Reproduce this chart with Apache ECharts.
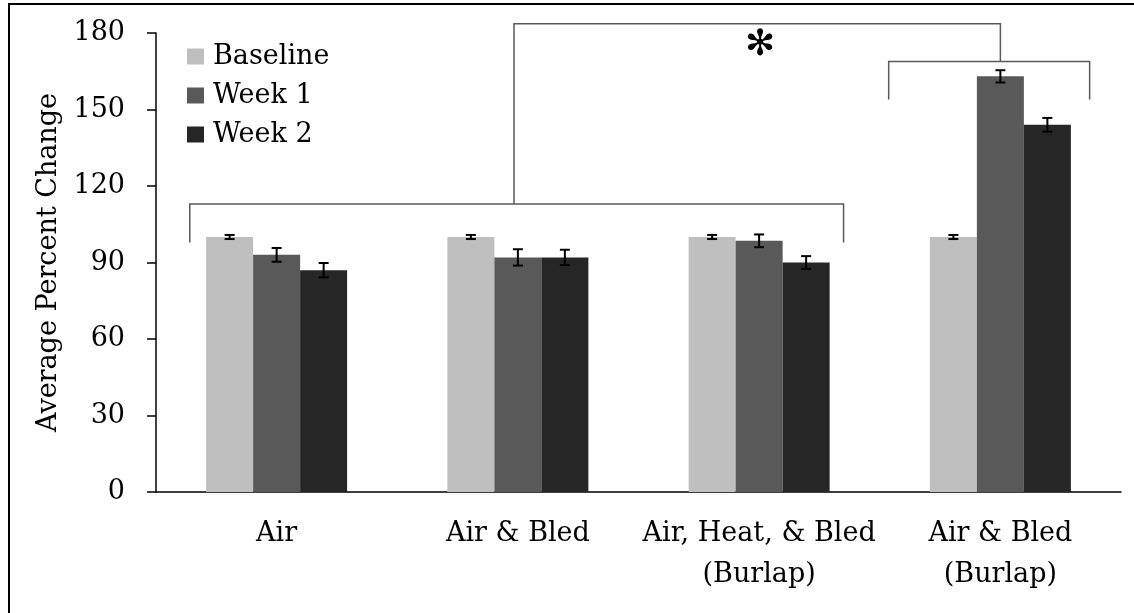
<!DOCTYPE html>
<html>
<head>
<meta charset="utf-8">
<script src="https://cdn.jsdelivr.net/npm/echarts@6/dist/echarts.min.js"></script>
<style>
  html, body { margin: 0; padding: 0; background: #fff; }
  #chart { width: 1134px; height: 613px; }
</style>
</head>
<body>
<div id="chart"></div>
<script>
// Treatment groups on the x axis
const categories = ['Air', 'Air & Bled', 'Air, Heat, & Bled\n(Burlap)', 'Air & Bled\n(Burlap)'];
const seriesNames = ['Baseline', 'Week 1', 'Week 2'];

// Average percent change per group
const baseline = [100, 100, 100, 100];
const week1 = [93, 92, 98.5, 163];
const week2 = [87, 92, 90, 144];

// Error bar half-widths (±)
const baselineErr = [0.8, 0.8, 0.8, 0.8];
const week1Err = [2.7, 3.2, 2.5, 2.4];
const week2Err = [2.8, 3.0, 2.5, 2.7];

const yTicks = [0, 30, 60, 90, 120, 150, 180];

const colors = ['#bfbfbf', '#595959', '#262626'];
const FONT = 'DejaVu Serif';
const FONT_SIZE = 27;
const BAR_W = 47;

const values = [baseline, week1, week2];
const errs = [baselineErr, week1Err, week2Err];

const chart = echarts.init(document.getElementById('chart'));

function errorSeries(si) {
  return {
    type: 'custom',
    name: seriesNames[si] + ' error',
    z: 10,
    silent: true,
    data: categories.map((c, i) => [i, values[si][i], errs[si][i]]),
    renderItem: function (params, api) {
      const idx = api.value(0);
      const v = api.value(1);
      const e = api.value(2);
      const top = api.coord([idx, v + e]);
      const bot = api.coord([idx, v - e]);
      const x = top[0] + (si - 1) * BAR_W;
      const cap = 5;
      const style = { stroke: '#000', lineWidth: 2 };
      return {
        type: 'group',
        children: [
          { type: 'line', shape: { x1: x, y1: top[1], x2: x, y2: bot[1] }, style: style },
          { type: 'line', shape: { x1: x - cap, y1: top[1], x2: x + cap, y2: top[1] }, style: style },
          { type: 'line', shape: { x1: x - cap, y1: bot[1], x2: x + cap, y2: bot[1] }, style: style }
        ]
      };
    }
  };
}

const barSeries = seriesNames.map((name, si) => ({
  type: 'bar',
  name: name,
  data: values[si],
  barWidth: BAR_W,
  barGap: '0%',
  itemStyle: { color: colors[si] },
  silent: true
}));

chart.setOption({
  animation: false,
  backgroundColor: '#fff',
  textStyle: { fontFamily: FONT },
  grid: { left: 156, right: 13, top: 33, bottom: 121 },
  legend: {
    orient: 'vertical',
    left: 187,
    top: 43,
    padding: 0,
    itemWidth: 17,
    itemHeight: 16,
    itemGap: 12,
    data: seriesNames,
    textStyle: { fontFamily: FONT, fontSize: FONT_SIZE, color: '#000', lineHeight: 26, padding: [0, 0, 0, 4] },
    icon: 'rect'
  },
  xAxis: {
    type: 'category',
    data: categories,
    axisLine: { lineStyle: { color: '#000', width: 1.5 } },
    axisTick: { show: false },
    axisLabel: {
      interval: 0,
      fontFamily: FONT,
      fontSize: FONT_SIZE,
      color: '#000',
      lineHeight: 41,
      margin: 21
    }
  },
  yAxis: {
    type: 'value',
    min: 0,
    max: 180,
    interval: 30,
    name: 'Average Percent Change',
    nameLocation: 'middle',
    nameGap: 94,
    nameTextStyle: { fontFamily: FONT, fontSize: FONT_SIZE, color: '#000' },
    axisLine: { show: true, lineStyle: { color: '#000', width: 1.5 } },
    axisTick: { show: true, length: 9, lineStyle: { color: '#000', width: 1.5 } },
    splitLine: { show: false },
    axisLabel: {
      fontFamily: FONT,
      fontSize: FONT_SIZE,
      color: '#000',
      margin: 31,
      formatter: v => (yTicks.indexOf(v) >= 0 ? String(v) : '')
    }
  },
  series: barSeries.concat([0, 1, 2].map(errorSeries))
});

// Significance brackets and the frame, placed from the axis scales
function drawAnnotations() {
  const c = i => chart.convertToPixel({ xAxisIndex: 0 }, i);
  const y = v => chart.convertToPixel({ yAxisIndex: 0 }, v);
  const band = c(1) - c(0);
  const lineStyle = { stroke: '#5a5a5a', lineWidth: 1.5, fill: null };

  const lx1 = c(0) - 0.36 * band;
  const lx2 = c(2) + 0.35 * band;
  const lstem = c(1) - 0.016 * band;
  const rx1 = c(3) - 0.463 * band;
  const rx2 = c(3) + 0.37 * band;
  const rstem = c(3);

  const leftTop = y(112.9), leftBot = y(97.8);
  const topY = y(183.6);
  const rightTop = y(168.8), rightBot = y(153.9);

  const elements = [
    { type: 'polyline', shape: { points: [[lx1, leftBot], [lx1, leftTop], [lx2, leftTop], [lx2, leftBot]] }, style: lineStyle },
    { type: 'polyline', shape: { points: [[lstem, leftTop], [lstem, topY], [rstem, topY], [rstem, rightTop]] }, style: lineStyle },
    { type: 'polyline', shape: { points: [[rx1, rightBot], [rx1, rightTop], [rx2, rightTop], [rx2, rightBot]] }, style: lineStyle },
    {
      type: 'text',
      x: (lstem + rstem) / 2 + 3,
      y: topY + 22,
      style: { text: '✻', fontFamily: 'DejaVu Sans', fontSize: 36, fontWeight: 'bold', fill: '#000', align: 'center', verticalAlign: 'middle' }
    },
    // page frame (left and top edges)
    { type: 'polyline', shape: { points: [[9, 613], [9, 4], [1134, 4]] }, style: { stroke: '#000', lineWidth: 2, fill: null } }
  ];
  chart.setOption({ graphic: { elements: elements } });
}
drawAnnotations();
</script>
</body>
</html>
